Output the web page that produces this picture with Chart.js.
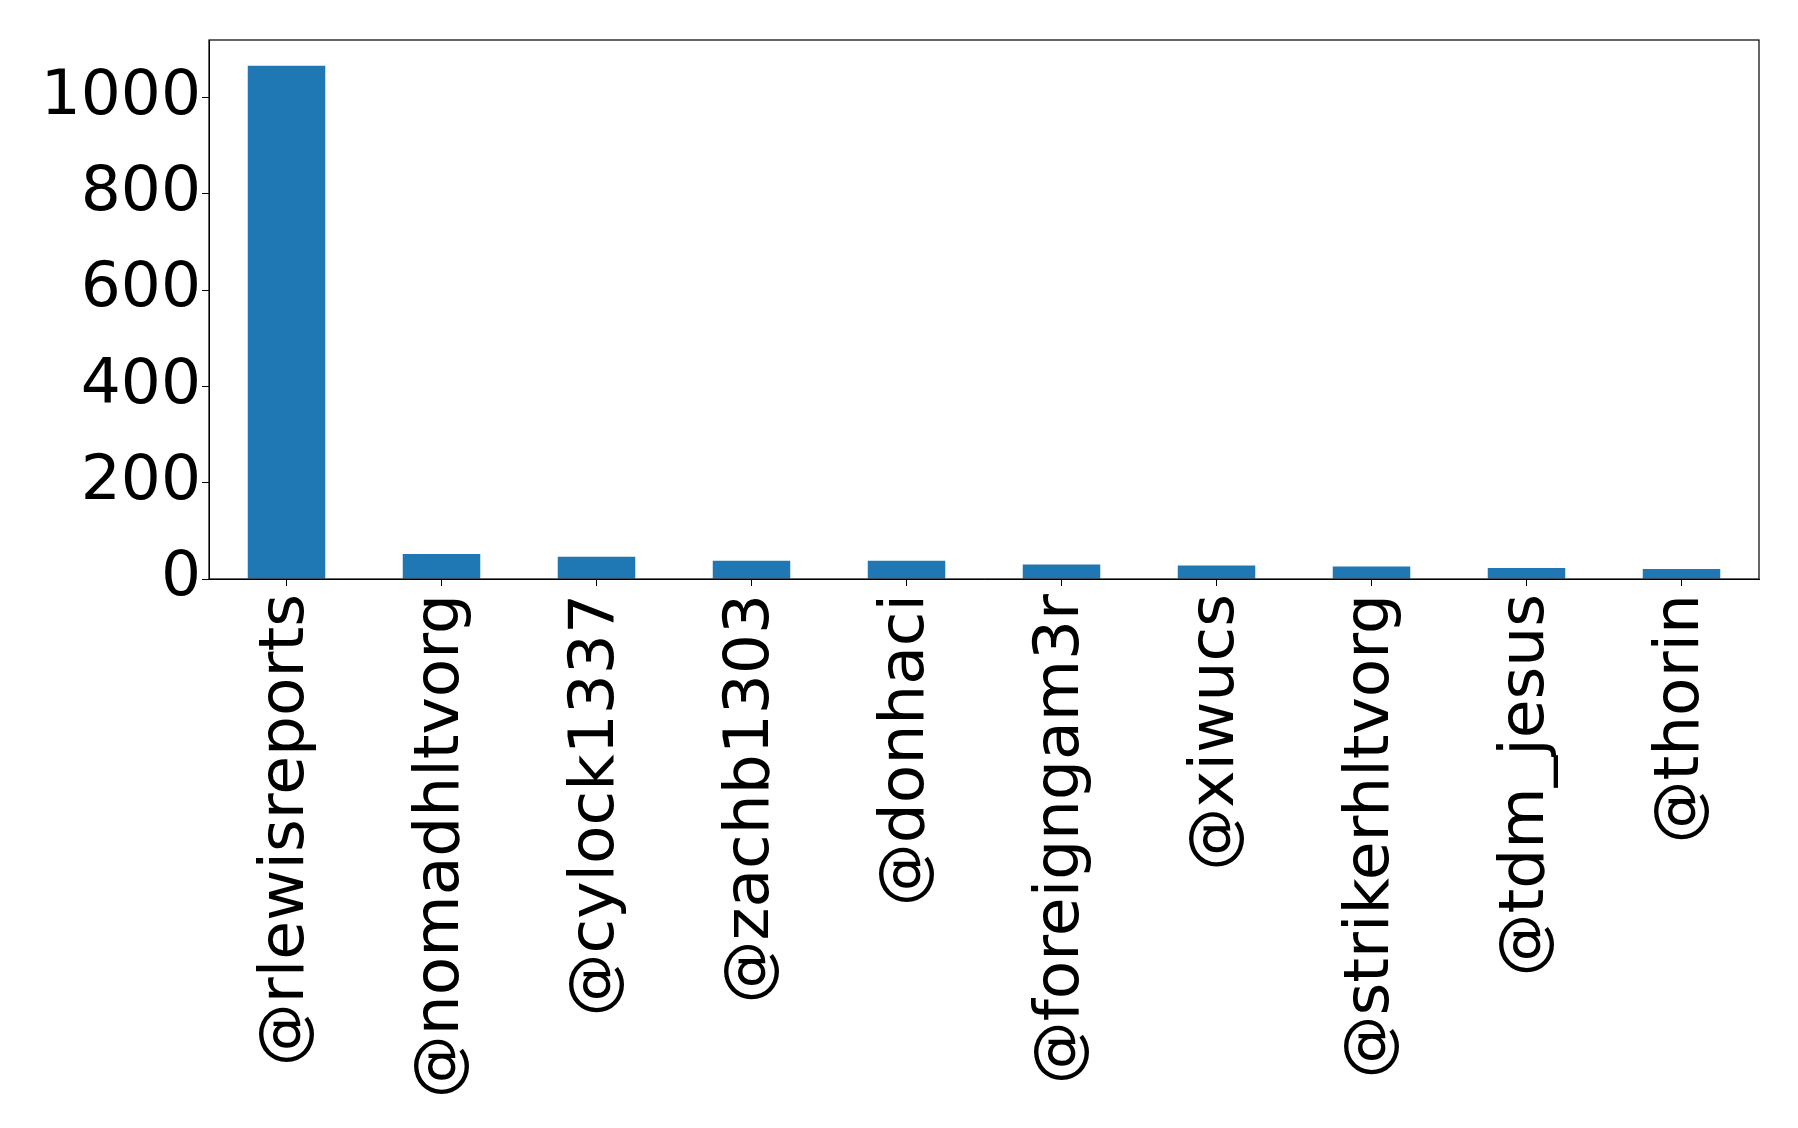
<!DOCTYPE html>
<html>
<head>
<meta charset="utf-8">
<script src="https://cdn.jsdelivr.net/npm/chart.js@4/dist/chart.umd.min.js"></script>
<style>
  html, body { margin: 0; padding: 0; background: #fff; }
  #wrap { width: 1798px; height: 1128px; }
</style>
</head>
<body>
<div id="wrap"><canvas id="chart" width="1798" height="1128"></canvas></div>
<script>
const handles = [
  "@rlewisreports", "@nomadhltvorg", "@cylock1337", "@zachb1303", "@donhaci",
  "@foreigngam3r", "@xiwucs", "@strikerhltvorg", "@tdm_jesus", "@thorin"
];
const counts = [1066, 52, 46, 38, 38, 30, 28, 26, 23, 21];
const yTicks = [0, 200, 400, 600, 800, 1000];

// matplotlib-style full box around the plot area
const frame = {
  id: "frame",
  afterDraw(chart) {
    const { ctx, chartArea: a } = chart;
    ctx.save();
    ctx.strokeStyle = "#000";
    ctx.lineWidth = 1.2;
    ctx.strokeRect(a.left, a.top, a.right - a.left, a.bottom - a.top);
    ctx.restore();
  }
};

const font = { family: "DejaVu Sans", size: 63 };

new Chart(document.getElementById("chart").getContext("2d"), {
  type: "bar",
  data: {
    labels: handles,
    datasets: [{
      data: counts,
      backgroundColor: "#1f77b4",
      barPercentage: 0.5,
      categoryPercentage: 1.0
    }]
  },
  options: {
    responsive: false,
    animation: false,
    layout: { padding: { top: 40, right: 39, left: 0, bottom: 0 } },
    plugins: { legend: { display: false }, tooltip: { enabled: false } },
    scales: {
      x: {
        offset: true,
        grid: { display: true, offset: false, drawOnChartArea: false, tickLength: 7, color: "#000" },
        border: { display: true, color: "#000" },
        ticks: { color: "#000", font, minRotation: 90, maxRotation: 90, autoSkip: false, padding: 8 },
        afterFit(scale) { scale.height = 1128 - 579; }
      },
      y: {
        min: 0,
        max: Math.max(...counts) * 1.05,
        grid: { display: true, drawOnChartArea: false, tickLength: 7, color: "#000" },
        border: { display: true, color: "#000" },
        ticks: { color: "#000", font, padding: 1, callback: v => String(v) },
        afterBuildTicks(scale) { scale.ticks = yTicks.map(v => ({ value: v })); },
        afterFit(scale) { scale.width = 209; }
      }
    }
  },
  plugins: [frame]
});
</script>
</body>
</html>
